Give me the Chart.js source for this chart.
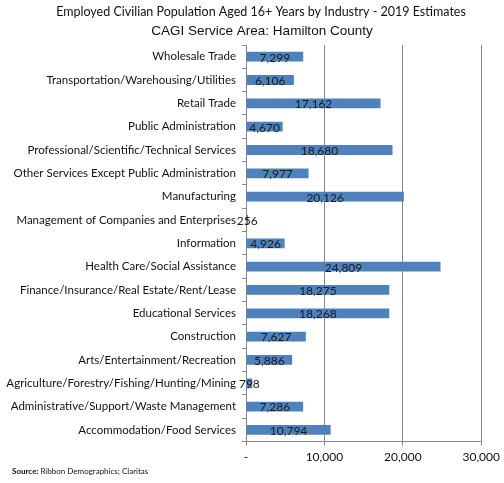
<!DOCTYPE html>
<html>
<head>
<meta charset="utf-8">
<script src="https://cdn.jsdelivr.net/npm/chart.js@4"></script>
<style>
  html, body { margin: 0; padding: 0; background: #fff; }
  #wrap { width: 504px; height: 483px; position: relative; }
</style>
</head>
<body>
<div id="wrap"><canvas id="industryChart"></canvas></div>
<script>
// Chart data
const industries = [
    'Wholesale Trade',
    'Transportation/Warehousing/Utilities',
    'Retail Trade',
    'Public Administration',
    'Professional/Scientific/Technical Services',
    'Other Services Except Public Administration',
    'Manufacturing',
    'Management of Companies and Enterprises',
    'Information',
    'Health Care/Social Assistance',
    'Finance/Insurance/Real Estate/Rent/Lease',
    'Educational Services',
    'Construction',
    'Arts/Entertainment/Recreation',
    'Agriculture/Forestry/Fishing/Hunting/Mining',
    'Administrative/Support/Waste Management',
    'Accommodation/Food Services'
];
const employed = [7299, 6106, 17162, 4670, 18680, 7977, 20126, 256, 4926, 24809, 18275, 18268, 7627, 5886, 798, 7286, 10794];
const xTicks = [0, 10000, 20000, 30000];

const titleText = 'Employed Civilian Population Aged 16+ Years by Industry - 2019 Estimates';
const subtitleText = 'CAGI Service Area: Hamilton County';

const labelFont = 'Lato, "Open Sans", sans-serif';

// draws the value in the middle of each bar
const valueLabels = {
    id: 'valueLabels',
    afterDatasetsDraw(chart) {
        const ctx = chart.ctx;
        const meta = chart.getDatasetMeta(0);
        ctx.save();
        ctx.font = '12px ' + labelFont;
        ctx.fillStyle = '#1a1a1a';
        ctx.textAlign = 'center';
        ctx.textBaseline = 'middle';
        meta.data.forEach(function(bar, i) {
            const mid = (bar.x + bar.base) / 2;
            ctx.fillText(employed[i].toLocaleString('en-US'), mid, bar.y + 1);
        });
        ctx.restore();
    }
};

// titles on top and source line at the bottom
const headerFooter = {
    id: 'headerFooter',
    afterDraw(chart) {
        const ctx = chart.ctx;
        ctx.save();
        ctx.textBaseline = 'middle';
        ctx.textAlign = 'center';
        ctx.fillStyle = '#111';
        ctx.font = '12.5px ' + labelFont;
        ctx.fillText(titleText, 261, 12);
        ctx.font = '13.5px "Liberation Sans", Arial, sans-serif';
        ctx.fillText(subtitleText, 262, 31);

        ctx.textAlign = 'left';
        ctx.font = 'bold 8px ' + labelFont;
        ctx.fillText('Source:', 12, 471);
        const w = ctx.measureText('Source: ').width;
        ctx.font = '8px ' + labelFont;
        ctx.fillText('Ribbon Demographics; Claritas', 12 + w, 471);
        ctx.restore();
    }
};

const ctx = document.getElementById('industryChart').getContext('2d');

const industryChart = new Chart(ctx, {
    type: 'bar',
    data: {
        labels: industries,
        datasets: [{
            data: employed,
            backgroundColor: '#4F81BD',
            borderWidth: 0,
            barPercentage: 0.42,
            categoryPercentage: 1
        }]
    },
    options: {
        indexAxis: 'y',
        responsive: true,
        maintainAspectRatio: false,
        animation: false,
        layout: {
            padding: { left: 0, right: 21, top: 45, bottom: 15 }
        },
        scales: {
            x: {
                min: 0,
                max: 30000,
                afterBuildTicks: function(scale) {
                    scale.ticks = xTicks.map(v => ({ value: v }));
                },
                grid: {
                    color: '#868686',
                    tickLength: 4,
                    drawOnChartArea: true
                },
                border: { color: '#868686' },
                ticks: {
                    color: '#111',
                    font: { size: 12, family: labelFont },
                    padding: 4,
                    callback: v => v === 0 ? '-' : v.toLocaleString('en-US')
                }
            },
            y: {
                afterFit: function(scale) {
                    scale.width = 246;
                },
                grid: {
                    offset: true,
                    drawOnChartArea: false,
                    color: '#868686',
                    tickLength: 4
                },
                border: { color: '#868686' },
                ticks: {
                    color: '#111',
                    font: { size: 11.5, family: labelFont },
                    padding: 6,
                    autoSkip: false
                }
            }
        },
        plugins: {
            legend: { display: false },
            tooltip: { enabled: false },
            title: { display: false }
        }
    },
    plugins: [valueLabels, headerFooter]
});
</script>
</body>
</html>
